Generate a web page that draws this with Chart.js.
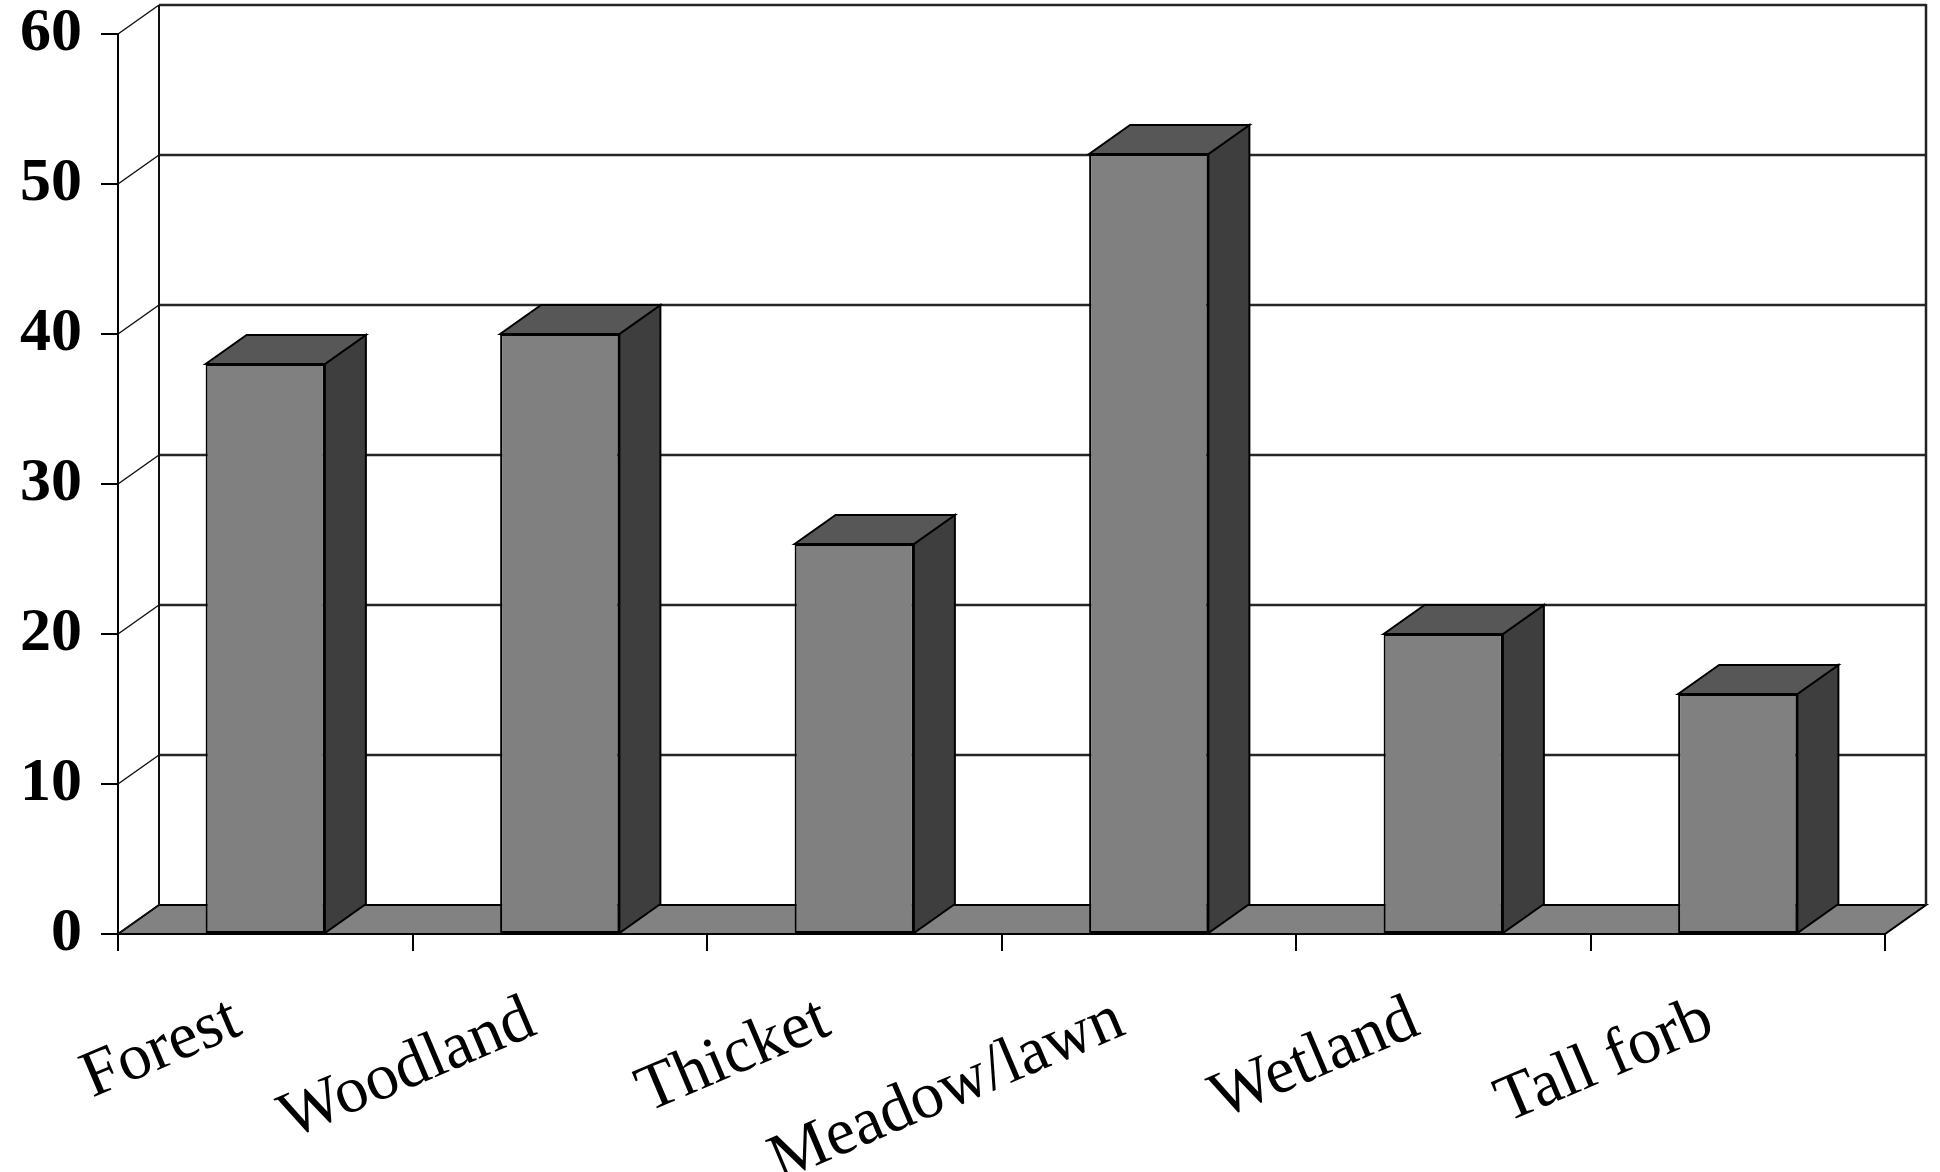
<!DOCTYPE html>
<html>
<head>
<meta charset="utf-8">
<script src="https://cdn.jsdelivr.net/npm/chart.js@4/dist/chart.umd.min.js"></script>
<style>
  html, body { margin: 0; padding: 0; background: #fff; }
  #wrap { width: 1940px; height: 1172px; position: relative; }
</style>
</head>
<body>
<div id="wrap"><canvas id="chart" width="1940" height="1172"></canvas></div>
<script>
// Habitat categories and their values
const categories = ['Forest', 'Woodland', 'Thicket', 'Meadow/lawn', 'Wetland', 'Tall forb'];
const habitatValues = [38, 40, 26, 52, 20, 16];
const yTickValues = [0, 10, 20, 30, 40, 50, 60];
const yTickLabels = ['0', '10', '20', '30', '40', '50', '60'];

// Depth of the pseudo-3D box (pixels to the back wall)
const DEPTH_X = 41;
const DEPTH_Y = 29;

const FACE_FRONT = '#808080';
const FACE_TOP = '#575757';
const FACE_SIDE = '#3e3e3e';
const FLOOR_FILL = '#828282';

function poly(ctx, pts, fill, stroke, lw) {
  ctx.beginPath();
  ctx.moveTo(pts[0][0], pts[0][1]);
  for (let i = 1; i < pts.length; i++) ctx.lineTo(pts[i][0], pts[i][1]);
  ctx.closePath();
  if (fill) { ctx.fillStyle = fill; ctx.fill(); }
  if (stroke) { ctx.strokeStyle = stroke; ctx.lineWidth = lw; ctx.lineJoin = 'miter'; ctx.stroke(); }
}

function seg(ctx, x1, y1, x2, y2, color, lw) {
  ctx.beginPath();
  ctx.moveTo(x1, y1);
  ctx.lineTo(x2, y2);
  ctx.strokeStyle = color;
  ctx.lineWidth = lw;
  ctx.stroke();
}

// Walls, floor and gridlines behind the columns; column tops and sides in front
const box3d = {
  id: 'box3d',
  beforeDatasetsDraw(chart) {
    const { ctx, chartArea: a, scales: { y } } = chart;
    const L = a.left, R = a.right;
    const B = y.getPixelForValue(yTickValues[0]);
    const T = y.getPixelForValue(yTickValues[yTickValues.length - 1]);
    ctx.save();
    // floor
    poly(ctx, [[L, B], [R, B], [R + DEPTH_X, B - DEPTH_Y], [L + DEPTH_X, B - DEPTH_Y]], FLOOR_FILL, '#000', 2);
    // back wall gridlines and side wall diagonals
    yTickValues.forEach(v => {
      const py = y.getPixelForValue(v);
      if (v > 0) seg(ctx, L + DEPTH_X, py - DEPTH_Y, R + DEPTH_X, py - DEPTH_Y, '#262626', 2.3);
      seg(ctx, L, py, L + DEPTH_X, py - DEPTH_Y, '#111', 1.5);
    });
    // back wall edges
    seg(ctx, L + DEPTH_X, T - DEPTH_Y, L + DEPTH_X, B - DEPTH_Y, '#111', 2);
    seg(ctx, R + DEPTH_X, T - DEPTH_Y - 1, R + DEPTH_X, B - DEPTH_Y, '#222', 2.5);
    ctx.restore();
  },
  afterDatasetsDraw(chart) {
    const { ctx } = chart;
    const meta = chart.getDatasetMeta(0);
    ctx.save();
    meta.data.forEach(bar => {
      const p = bar.getProps(['x', 'y', 'width', 'base'], true);
      const l = p.x - p.width / 2, r = p.x + p.width / 2;
      const top = p.y, base = p.base;
      // side face
      poly(ctx, [[r, top], [r + DEPTH_X, top - DEPTH_Y], [r + DEPTH_X, base - DEPTH_Y], [r, base]], FACE_SIDE, '#000', 2);
      // top face
      poly(ctx, [[l, top], [l + DEPTH_X, top - DEPTH_Y], [r + DEPTH_X, top - DEPTH_Y], [r, top]], FACE_TOP, '#000', 2);
    });
    ctx.restore();
  }
};

const serif = '"Liberation Serif", "Times New Roman", Times, serif';

new Chart(document.getElementById('chart'), {
  type: 'bar',
  data: {
    labels: categories,
    datasets: [{
      data: habitatValues,
      backgroundColor: FACE_FRONT,
      borderColor: '#000',
      borderWidth: 2,
      borderSkipped: false,
      barPercentage: 0.405,
      categoryPercentage: 1.0
    }]
  },
  options: {
    responsive: false,
    animation: false,
    events: [],
    layout: { padding: { top: 34, right: 55, left: 0, bottom: 0 } },
    plugins: { legend: { display: false }, tooltip: { enabled: false } },
    scales: {
      x: {
        grid: { display: true, drawOnChartArea: false, drawTicks: true, tickLength: 17, color: '#000', lineWidth: 2, offset: true },
        border: { display: true, color: '#000', width: 2 },
        ticks: {
          autoSkip: false,
          minRotation: 23,
          maxRotation: 23,
          padding: 30,
          labelOffset: -28,
          color: '#000',
          font: { family: serif, size: 66, lineHeight: 1.2 }
        },
        afterFit(scale) {
          scale.height = 238;
          scale.paddingLeft = 0; scale.paddingRight = 0;
          scale.paddingTop = 0; scale.paddingBottom = 0;
        }
      },
      y: {
        min: 0,
        max: 60,
        grid: { display: true, drawOnChartArea: false, drawTicks: true, tickLength: 17, color: '#000', lineWidth: 2 },
        border: { display: true, color: '#000', width: 2 },
        afterBuildTicks(scale) {
          scale.ticks = yTickValues.map(v => ({ value: v }));
        },
        ticks: {
          padding: 19,
          color: '#000',
          font: { family: serif, size: 62, weight: 'bold', lineHeight: 1 },
          callback(value, index) { return yTickLabels[index]; }
        },
        afterFit(scale) {
          scale.width = 118;
          scale.paddingTop = 0; scale.paddingBottom = 0;
        }
      }
    }
  },
  plugins: [box3d]
});
</script>
</body>
</html>
